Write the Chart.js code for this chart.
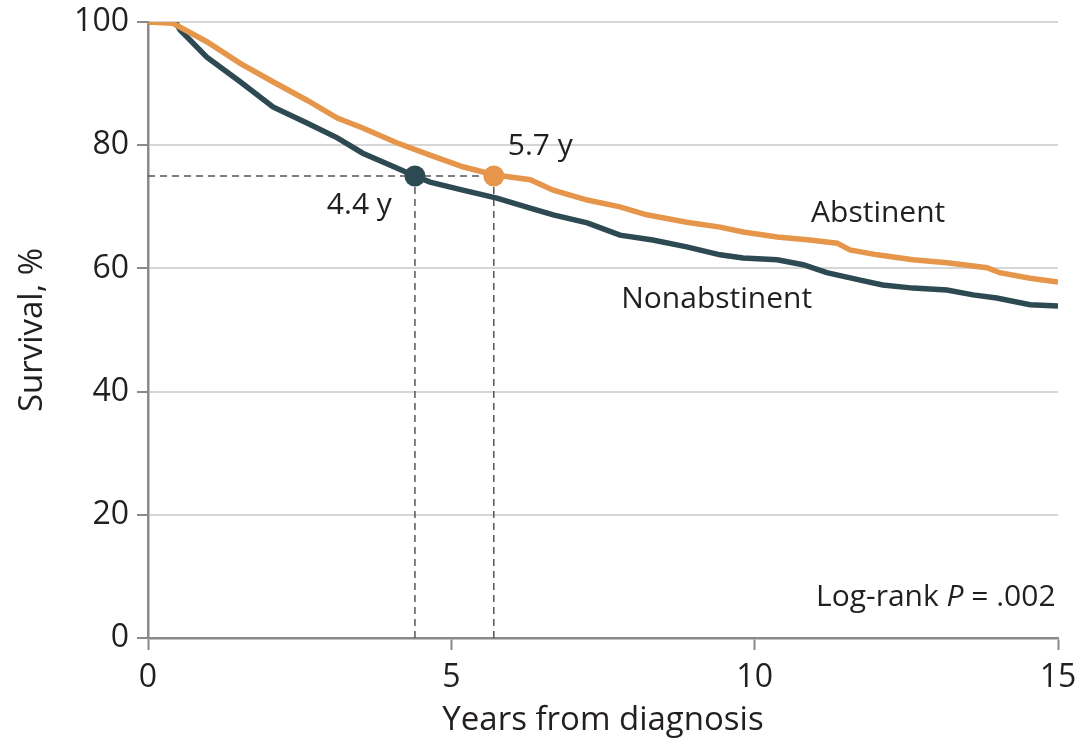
<!DOCTYPE html>
<html>
<head>
<meta charset="utf-8">
<script src="https://cdn.jsdelivr.net/npm/chart.js@4/dist/chart.umd.min.js"></script>
<style>
  html, body { margin: 0; padding: 0; background: #ffffff; }
  #wrap { width: 1081px; height: 749px; }
</style>
</head>
<body>
<div id="wrap"><canvas id="km" width="1081" height="749"></canvas></div>
<script>
// Kaplan-Meier survival, years from diagnosis vs survival (%)
const abstinentYears = [0, 0.41, 0.97, 1.52, 2.06, 2.62, 3.12, 3.54, 4.10, 4.65, 5.19, 5.70, 6.30, 6.68, 7.24, 7.78, 8.22, 8.88, 9.43, 9.81, 10.37, 10.91, 11.36, 11.57, 12.02, 12.61, 13.17, 13.83, 14.04, 14.54, 15.0];
const abstinentSurvival = [100, 99.8, 96.8, 93.3, 90.3, 87.3, 84.4, 82.8, 80.4, 78.4, 76.5, 75.2, 74.4, 72.7, 71.1, 70.0, 68.7, 67.5, 66.7, 65.9, 65.1, 64.6, 64.1, 63.0, 62.2, 61.4, 60.9, 60.1, 59.3, 58.4, 57.8];

const nonabstinentYears = [0, 0.45, 0.53, 0.97, 1.52, 2.06, 2.62, 3.12, 3.54, 4.10, 4.40, 4.65, 5.19, 5.75, 6.30, 6.68, 7.24, 7.78, 8.32, 8.88, 9.43, 9.81, 10.37, 10.80, 11.19, 11.74, 12.11, 12.61, 13.17, 13.60, 13.99, 14.54, 15.0];
const nonabstinentSurvival = [100, 100, 98.7, 94.3, 90.3, 86.2, 83.6, 81.2, 78.7, 76.3, 75.0, 74.0, 72.7, 71.4, 69.8, 68.7, 67.4, 65.4, 64.6, 63.5, 62.2, 61.7, 61.4, 60.6, 59.3, 58.1, 57.3, 56.8, 56.5, 55.7, 55.2, 54.1, 53.9];

// Time at which survival reaches 75%
const markerSurvival = 75;
const abstinentMarkerYear = 5.7;
const nonabstinentMarkerYear = 4.4;

const xTicks = [0, 5, 10, 15];
const yTicks = [0, 20, 40, 60, 80, 100];

// Text annotations: [text, x (years), y (%), align]
const annotations = [
  ['5.7 y', 5.93, 79.8, 'left'],
  ['4.4 y', 4.02, 70.2, 'right'],
  ['Abstinent', 10.93, 69.0, 'left'],
  ['Nonabstinent', 7.80, 54.9, 'left']
];
const pValueLabel = { prefix: 'Log-rank ', italic: 'P', suffix: ' = .002', x: 14.96, y: 6.6 };

const ORANGE = '#e5964a';
const TEAL = '#2d4a52';
const FONT = "'Open Sans', 'Noto Sans', sans-serif";
const TEXT = '#231f20';

const toPoints = (xs, ys) => xs.map((x, i) => ({ x: x, y: ys[i] }));

const dashStyle = { borderColor: '#555555', borderWidth: 1.5, borderDash: [7, 5], pointRadius: 0, showLine: true, fill: false };

// Axis boxes keep fixed sizes and add no label overhang padding
const fixBox = (dim, size) => s => {
  s[dim] = size;
  s.paddingTop = 0; s.paddingBottom = 0; s.paddingLeft = 0; s.paddingRight = 0;
};

const annotationPlugin = {
  id: 'kmLabels',
  afterDatasetsDraw(chart) {
    const { ctx, scales } = chart;
    const xs = scales.x, ys = scales.y;
    ctx.save();
    ctx.fillStyle = TEXT;
    ctx.textBaseline = 'middle';
    ctx.font = '30px ' + FONT;
    annotations.forEach(([t, x, y, align]) => {
      ctx.textAlign = align;
      ctx.fillText(t, xs.getPixelForValue(x), ys.getPixelForValue(y));
    });
    // P-value, right aligned with italic P
    const normal = '30px ' + FONT;
    const italic = 'italic 30px ' + FONT;
    ctx.font = normal;
    const wPre = ctx.measureText(pValueLabel.prefix).width;
    const wSuf = ctx.measureText(pValueLabel.suffix).width;
    ctx.font = italic;
    const wP = ctx.measureText(pValueLabel.italic).width;
    const right = xs.getPixelForValue(pValueLabel.x);
    const py = ys.getPixelForValue(pValueLabel.y);
    const left = right - (wPre + wP + wSuf);
    ctx.textAlign = 'left';
    ctx.font = normal;
    ctx.fillText(pValueLabel.prefix, left, py);
    ctx.font = italic;
    ctx.fillText(pValueLabel.italic, left + wPre, py);
    ctx.font = normal;
    ctx.fillText(pValueLabel.suffix, left + wPre + wP, py);
    ctx.restore();
  }
};

new Chart(document.getElementById('km'), {
  type: 'scatter',
  data: {
    datasets: [
      Object.assign({ label: 'guide-h', data: [{ x: 0, y: markerSurvival }, { x: abstinentMarkerYear, y: markerSurvival }], order: 5 }, dashStyle),
      Object.assign({ label: 'guide-v1', data: [{ x: nonabstinentMarkerYear, y: 0 }, { x: nonabstinentMarkerYear, y: markerSurvival }], order: 5 }, dashStyle),
      Object.assign({ label: 'guide-v2', data: [{ x: abstinentMarkerYear, y: 0 }, { x: abstinentMarkerYear, y: markerSurvival }], order: 5 }, dashStyle),
      {
        label: 'Nonabstinent',
        data: toPoints(nonabstinentYears, nonabstinentSurvival),
        showLine: true, borderColor: TEAL, borderWidth: 5.5, pointRadius: 0, tension: 0, order: 4
      },
      {
        label: 'Abstinent',
        data: toPoints(abstinentYears, abstinentSurvival),
        showLine: true, borderColor: ORANGE, borderWidth: 5.5, pointRadius: 0, tension: 0, order: 3
      },
      {
        label: 'Nonabstinent 75%',
        data: [{ x: nonabstinentMarkerYear, y: markerSurvival }],
        pointRadius: 10.5, pointBackgroundColor: TEAL, pointBorderWidth: 0, order: 1
      },
      {
        label: 'Abstinent 75%',
        data: [{ x: abstinentMarkerYear, y: markerSurvival }],
        pointRadius: 10.5, pointBackgroundColor: ORANGE, pointBorderWidth: 0, order: 1
      }
    ]
  },
  options: {
    responsive: false,
    animation: false,
    layout: { autoPadding: false, padding: { top: 22, right: 23, left: 0, bottom: 0 } },
    plugins: { legend: { display: false }, tooltip: { enabled: false } },
    scales: {
      x: {
        type: 'linear', min: 0, max: 15,
        afterFit: fixBox('height', 111),
        afterBuildTicks: s => { s.ticks = xTicks.map(v => ({ value: v })); },
        grid: { drawOnChartArea: false, drawTicks: true, tickLength: 12, tickColor: '#8a8a8a', tickWidth: 2 },
        border: { color: '#8a8a8a', width: 2.5 },
        ticks: { color: TEXT, font: { family: FONT, size: 32 }, padding: 9, maxRotation: 0 },
        title: { display: true, text: 'Years from diagnosis', color: TEXT, font: { family: FONT, size: 33 }, padding: { top: 0, bottom: 9 } }
      },
      y: {
        type: 'linear', min: 0, max: 100,
        afterFit: fixBox('width', 148),
        afterBuildTicks: s => { s.ticks = yTicks.map(v => ({ value: v })); },
        grid: { color: '#d6d6d6', lineWidth: 2, drawTicks: true, tickLength: 11, tickColor: '#8a8a8a', tickWidth: 2 },
        border: { color: '#8a8a8a', width: 2.5 },
        ticks: { color: TEXT, font: { family: FONT, size: 32 }, padding: 8 },
        title: { display: true, text: 'Survival, %', color: TEXT, font: { family: FONT, size: 33 }, padding: { top: 13, bottom: 0 } }
      }
    }
  },
  plugins: [annotationPlugin]
});
</script>
</body>
</html>
